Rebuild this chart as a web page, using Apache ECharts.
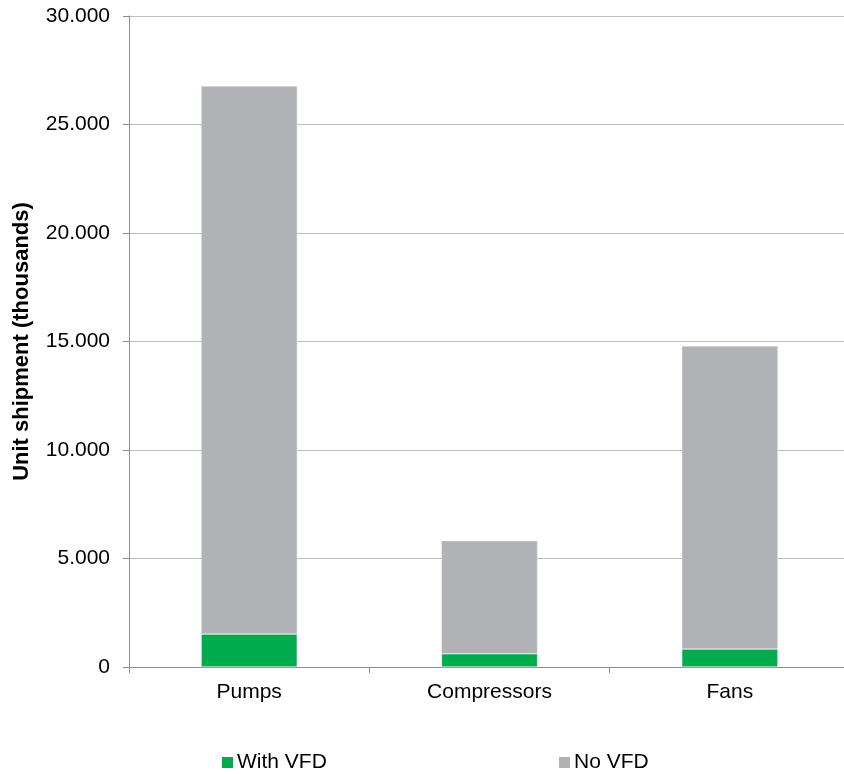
<!DOCTYPE html>
<html>
<head>
<meta charset="utf-8">
<script src="https://cdn.jsdelivr.net/npm/echarts@6/dist/echarts.min.js"></script>
<style>
  html, body { margin: 0; padding: 0; background: #fff; }
  #chart { width: 844px; height: 774px; }
</style>
</head>
<body>
<div id="chart"></div>
<script>
// data (thousands of units)
var categories = ['Pumps', 'Compressors', 'Fans'];
var withVfd = [1520, 610, 830];
var noVfd = [25250, 5210, 13960];
var yTicks = { min: 0, max: 30000, interval: 5000 };

var font = '"Liberation Sans", Arial, sans-serif';

function dotThousands(v) {
  return String(v).replace(/\B(?=(\d{3})+(?!\d))/g, '.');
}

function legendAt(name, left) {
  return {
    data: [name], left: left, top: 752, padding: 0,
    itemWidth: 11, itemHeight: 11, itemGap: 4,
    icon: 'rect',
    itemStyle: { borderWidth: 0 },
    textStyle: { fontSize: 21, color: '#000', fontFamily: font, padding: [0, 0, 0, -1] }
  };
}

var chart = echarts.init(document.getElementById('chart'));
chart.setOption({
  animation: false,
  textStyle: { fontFamily: font },
  grid: { left: 129, right: -6, top: 16, bottom: 107, outerBoundsMode: 'none' },
  legend: [legendAt('With VFD', 222), legendAt('No VFD', 559)],
  xAxis: {
    type: 'category',
    data: categories,
    axisLine: { lineStyle: { color: '#8c8c8c', width: 1 } },
    axisTick: { show: true, alignWithLabel: false, length: 6, lineStyle: { color: '#8c8c8c' } },
    axisLabel: { color: '#000', fontSize: 21, margin: 15, fontFamily: font }
  },
  yAxis: {
    type: 'value',
    min: yTicks.min,
    max: yTicks.max,
    interval: yTicks.interval,
    name: 'Unit shipment (thousands)',
    nameLocation: 'middle',
    nameGap: 96,
    nameTextStyle: { fontSize: 22, fontWeight: 'bold', color: '#000', fontFamily: font },
    axisLine: { show: true, lineStyle: { color: '#8c8c8c', width: 1 } },
    axisTick: { show: true, length: 6, lineStyle: { color: '#8c8c8c' } },
    axisLabel: { color: '#000', fontSize: 21, margin: 19, fontFamily: font, formatter: dotThousands },
    splitLine: { show: true, lineStyle: { color: '#bdbdbd', width: 1 } }
  },
  series: [
    {
      name: 'With VFD', type: 'bar', stack: 'total',
      data: withVfd, barWidth: '40%',
      itemStyle: { color: '#00AB4E', borderColor: '#ffffff', borderWidth: 0.5 }
    },
    {
      name: 'No VFD', type: 'bar', stack: 'total',
      data: noVfd, barWidth: '40%',
      itemStyle: { color: '#B1B2B6', borderColor: '#e8e8e8', borderWidth: 0.5 }
    }
  ]
});
</script>
</body>
</html>
